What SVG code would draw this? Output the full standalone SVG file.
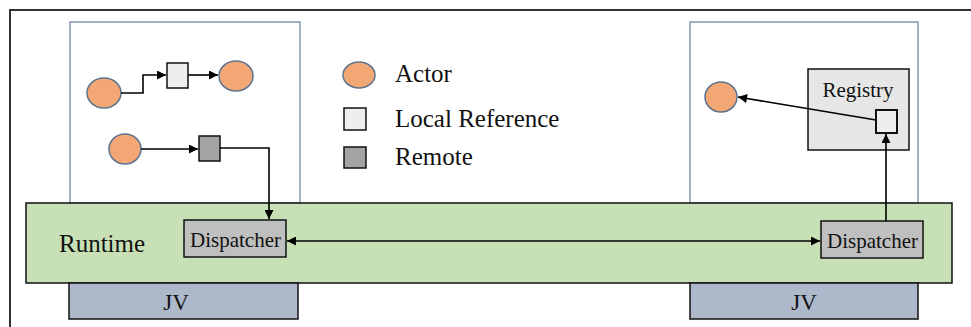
<svg xmlns="http://www.w3.org/2000/svg" width="971" height="327" viewBox="0 0 971 327">
  <style>
    .frame { fill: none; stroke: #333; stroke-width: 2; }
    .node-box { fill: #ffffff; stroke: #8599b4; stroke-width: 1.5; }
    .runtime { fill: #c7e0b5; stroke: #111; stroke-width: 1.5; }
    .jv { fill: #adb8cb; stroke: #111; stroke-width: 1.5; }
    .actor { fill: #f3a775; stroke: #5c7390; stroke-width: 1.5; }
    .local { fill: #eeeeee; stroke: #111; stroke-width: 1.5; }
    .remote { fill: #a3a3a3; stroke: #111; stroke-width: 1.5; }
    .registry { fill: #e6e6e6; stroke: #111; stroke-width: 1.5; }
    .dispatcher { fill: #bfbfbf; stroke: #111; stroke-width: 1.5; }
    .wire { fill: none; stroke: #000; stroke-width: 1.6; }
    text { font-family: "Liberation Serif", "Times New Roman", serif; fill: #111; }
    .lbl { font-size: 25px; }
    .small { font-size: 21px; }
  </style>
  <defs>
    <marker id="arrow" viewBox="0 0 10 10" refX="10" refY="5" markerWidth="10" markerHeight="9" orient="auto-start-reverse" markerUnits="userSpaceOnUse">
      <path d="M0,0 L10,5 L0,10 z" fill="#000"/>
    </marker>
  </defs>

  <!-- outer frame: top and left edges -->
  <path class="frame" d="M10,327 L10,10 L971,10"/>

  <!-- host boxes -->
  <g id="host-left">
    <rect class="node-box" x="70" y="22" width="230" height="181"/>
  </g>
  <g id="host-right">
    <rect class="node-box" x="690" y="22" width="228" height="181"/>
  </g>

  <!-- runtime layer -->
  <g id="runtime">
    <rect class="runtime" x="26" y="203" width="926" height="80"/>
    <text class="lbl" x="59" y="252">Runtime</text>
  </g>

  <!-- JV layers -->
  <g id="jv-left">
    <rect class="jv" x="69" y="283" width="229" height="36"/>
    <text class="lbl" x="176" y="310" text-anchor="middle" style="font-size:23px">JV</text>
  </g>
  <g id="jv-right">
    <rect class="jv" x="690" y="283" width="228" height="36"/>
    <text class="lbl" x="804" y="310" text-anchor="middle" style="font-size:23px">JV</text>
  </g>

  <!-- dispatchers -->
  <g id="dispatcher-left">
    <rect class="dispatcher" x="184" y="220" width="102" height="37"/>
    <text class="small" x="235.5" y="247" text-anchor="middle">Dispatcher</text>
  </g>
  <g id="dispatcher-right">
    <rect class="dispatcher" x="821" y="221" width="102" height="37"/>
    <text class="small" x="872.5" y="248" text-anchor="middle">Dispatcher</text>
  </g>

  <!-- registry -->
  <g id="registry">
    <rect class="registry" x="808" y="69" width="101" height="81"/>
    <text class="small" x="858" y="97" text-anchor="middle">Registry</text>
  </g>

  <!-- actors and references, left host -->
  <g id="actor-a"><ellipse class="actor" cx="104" cy="93" rx="17" ry="15"/></g>
  <g id="local-ref-a"><rect class="local" x="167" y="63" width="21" height="25"/></g>
  <g id="actor-b"><ellipse class="actor" cx="236" cy="76" rx="17" ry="15"/></g>
  <g id="actor-c"><ellipse class="actor" cx="125" cy="149" rx="16" ry="15"/></g>
  <g id="remote-ref"><rect class="remote" x="199" y="136" width="21" height="25"/></g>

  <!-- actor and reference, right host -->
  <g id="actor-d"><ellipse class="actor" cx="721" cy="97" rx="16" ry="15"/></g>
  <g id="local-ref-b"><rect class="local" x="876" y="110" width="21" height="23" style="stroke-width:2"/></g>

  <!-- legend -->
  <g id="legend">
    <ellipse class="actor" cx="359" cy="75" rx="16" ry="13"/>
    <text class="lbl" x="395" y="82">Actor</text>
    <rect class="local" x="344" y="108" width="22" height="22"/>
    <text class="lbl" x="395" y="127">Local Reference</text>
    <rect class="remote" x="344" y="147" width="22" height="21"/>
    <text class="lbl" x="395" y="165">Remote</text>
  </g>

  <!-- connectors -->
  <g id="connectors">
    <path class="wire" d="M121,93 L143,93 L143,75 L166,75" marker-end="url(#arrow)"/>
    <path class="wire" d="M188,75 L218,75" marker-end="url(#arrow)"/>
    <path class="wire" d="M141,149 L198,149" marker-end="url(#arrow)"/>
    <path class="wire" d="M220,148 L269,148 L269,219" marker-end="url(#arrow)"/>
    <path class="wire" d="M287,241 L820,241" marker-start="url(#arrow)" marker-end="url(#arrow)"/>
    <path class="wire" d="M886,221 L886,134" marker-end="url(#arrow)"/>
    <path class="wire" d="M876,120 L738,97" marker-end="url(#arrow)"/>
  </g>
</svg>
